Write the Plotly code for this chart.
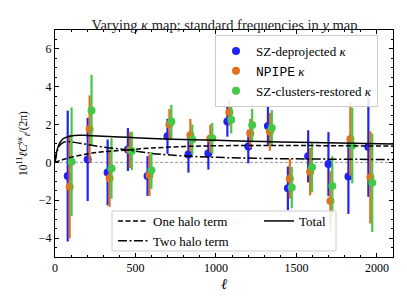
import plotly.graph_objects as go

# ---- data ----
ell_bins = [91, 215, 339, 465, 587, 711, 841, 965, 1083, 1213, 1335, 1459, 1585, 1711, 1835, 1959]
series_names = ["SZ-deprojected <i>κ</i>", "<span style='font-family:Liberation Mono'>NPIPE</span> <i>κ</i>",
                "SZ-clusters-restored <i>κ</i>"]
series_offsets = [-12, 0, 12]
series_colors = ["#2222f5", "#e2701c", "#45c845"]

deproj_vals = [-0.72, 0.16, -0.53, 0.68, -0.72, 1.38, 0.42, 0.47, 2.16, 0.84, 1.93, -1.37, 0.32, -0.09, -0.75, 0.81]
deproj_err = [3.46, 2.2, 1.74, 1.13, 1.05, 0.93, 0.96, 0.85, 0.8, 0.89, 1.0, 1.15, 1.38, 1.69, 1.97, 2.63]
npipe_vals = [-1.28, 1.77, -0.84, 0.65, -0.68, 2.0, 1.44, 1.26, 2.65, 1.53, 1.62, -0.86, -0.49, -2.04, 1.24, -0.79]
npipe_err = [2.74, 1.77, 1.51, 0.95, 1.1, 0.83, 0.86, 0.74, 0.7, 0.77, 1.0, 1.05, 1.25, 1.58, 1.95, 2.44]
restored_vals = [0.04, 2.75, -0.32, 0.61, -0.42, 2.16, 1.21, 1.28, 2.25, 1.98, 1.82, -1.33, -0.25, -1.25, 0.89, -1.07]
restored_err = [2.87, 1.88, 1.6, 1.02, 0.98, 0.88, 0.79, 0.81, 0.72, 0.85, 0.95, 1.1, 1.33, 1.58, 2.0, 2.6]

one_halo_ell = [0, 25, 50, 100, 200, 300, 450, 600, 800, 1000, 1300, 1600, 2100]
one_halo_vals = [0, 0.08, 0.15, 0.27, 0.45, 0.56, 0.66, 0.76, 0.84, 0.88, 0.9, 0.89, 0.86]
two_halo_ell = [0, 10, 25, 50, 80, 120, 200, 300, 450, 600, 700, 850, 1000, 1300, 1600, 2100]
two_halo_vals = [0, 0.45, 0.85, 1.05, 1.1, 1.06, 0.95, 0.81, 0.66, 0.48, 0.4, 0.32, 0.27, 0.21, 0.18, 0.15]
total_ell = [0, 10, 25, 50, 100, 150, 200, 300, 450, 600, 800, 1000, 1300, 1600, 2100]
total_vals = [0, 0.55, 0.95, 1.25, 1.4, 1.44, 1.42, 1.38, 1.33, 1.27, 1.21, 1.17, 1.1, 1.05, 0.98]

x_ticks = [0, 500, 1000, 1500, 2000]
y_ticks = [-4, -2, 0, 2, 4, 6]
y_ticklabels = ["−4", "−2", "0", "2", "4", "6"]

FONT = "Liberation Serif, DejaVu Serif, serif"

# plot area in pixels
W, H = 407, 305
L, R, T, B = 55, 14, 30, 48
PW, PH = W - L - R, H - T - B


def px_x(p):
    return (p - L) / PW


def px_y(p):
    return (H - B - p) / PH


fig = go.Figure()

all_vals = [deproj_vals, npipe_vals, restored_vals]
all_errs = [deproj_err, npipe_err, restored_err]
for name, off, col, vals, errs in zip(series_names, series_offsets, series_colors, all_vals, all_errs):
    fig.add_trace(go.Scatter(
        x=[e + off for e in ell_bins], y=vals, mode="markers", name=name,
        marker=dict(color=col, size=8),
        error_y=dict(type="data", array=errs, visible=True, color=col, thickness=2.2, width=0),
        legend="legend",
    ))

fig.add_trace(go.Scatter(x=one_halo_ell, y=one_halo_vals, mode="lines", name="One halo term",
                         line=dict(color="black", width=1.5, dash="5px,2.5px", shape="spline"),
                         legend="legend2"))
fig.add_trace(go.Scatter(x=two_halo_ell, y=two_halo_vals, mode="lines", name="Two halo term",
                         line=dict(color="black", width=1.5, dash="9px,2.5px,2px,2.5px", shape="spline"),
                         legend="legend2"))
fig.add_trace(go.Scatter(x=total_ell, y=total_vals, mode="lines", name="Total",
                         line=dict(color="black", width=1.5, shape="spline"),
                         legend="legend3"))

fig.add_hline(y=0, line=dict(color="gray", width=0.8, dash="3px,2px"), layer="below")

# frame for the two-column theory legend
fig.add_shape(type="rect", xref="paper", yref="paper",
              x0=px_x(112), x1=px_x(336), y0=px_y(251), y1=px_y(211),
              fillcolor="rgba(255,255,255,0.85)", line=dict(color="#cccccc", width=1), layer="above")

axis_common = dict(showline=True, linecolor="black", linewidth=1, mirror="allticks",
                   ticks="inside", ticklen=4, tickwidth=0.8, tickcolor="black",
                   showgrid=False, zeroline=False, automargin=False,
                   tickfont=dict(family=FONT, size=12, color="black"))

fig.update_xaxes(range=[0, 2100], tickvals=x_ticks,
                 minor=dict(dtick=100, ticks="inside", ticklen=2, tickwidth=0.6, tickcolor="black"),
                 title=dict(text="<i>ℓ</i>", font=dict(family=FONT, size=15, color="black"), standoff=4),
                 **axis_common)
fig.update_yaxes(range=[-5, 7], tickvals=y_ticks, ticktext=y_ticklabels,
                 minor=dict(dtick=0.5, ticks="inside", ticklen=2, tickwidth=0.6, tickcolor="black"),
                 title=dict(text="10<sup>11</sup><i>ℓC</i><sup><i>yκ</i></sup><sub><i>ℓ</i></sub>/(2π)",
                            font=dict(family=FONT, size=11.5, color="black"), standoff=8),
                 **axis_common)

leg_font = dict(family=FONT, size=13, color="black")
fig.update_layout(
    width=W, height=H,
    margin=dict(l=L, r=R, t=T, b=B),
    paper_bgcolor="white", plot_bgcolor="white",
    font=dict(family=FONT, size=12, color="black"),
    title=dict(text="Varying <i>κ</i> map; standard frequencies in <i>y</i> map",
               x=(224.5) / W, xanchor="center", y=1 - 25 / H, yanchor="middle", yref="container",
               font=dict(family=FONT, size=14.5, color="#222")),
    legend=dict(x=px_x(215), xanchor="left", y=px_y(35), yanchor="top",
                bgcolor="rgba(255,255,255,0.85)", bordercolor="#cccccc", borderwidth=1,
                font=leg_font, tracegroupgap=0, itemwidth=30),
    legend2=dict(x=px_x(113), xanchor="left", y=px_y(206), yanchor="top",
                 bgcolor="rgba(0,0,0,0)", borderwidth=0, font=leg_font, itemwidth=30),
    legend3=dict(x=px_x(259), xanchor="left", y=px_y(206), yanchor="top",
                 bgcolor="rgba(0,0,0,0)", borderwidth=0, font=leg_font, itemwidth=30),
    showlegend=True,
)

fig.write_html("out.html", config={"displayModeBar": False},
               post_script="document.body.style.margin='0px';document.body.style.overflow='hidden';")
